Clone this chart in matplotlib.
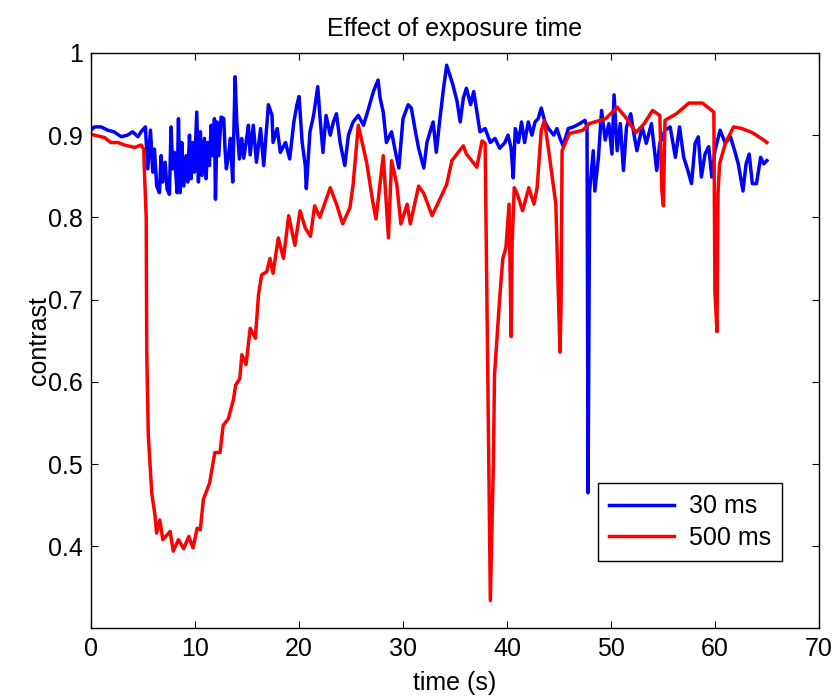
import matplotlib
matplotlib.use("Agg")
import matplotlib.pyplot as plt

plt.rcParams['font.family'] = ['Liberation Sans', 'DejaVu Sans']

# 30 ms exposure (blue)
t_30 = [0, 0.32, 0.96, 1.6, 2.2, 2.9, 3.5, 4.0, 4.5, 4.8,
        5.22, 5.45, 5.71, 5.93, 6.09, 6.31, 6.57, 6.73, 6.89, 7.12, 7.31,
        7.53, 7.69, 7.85, 8.01, 8.27, 8.40, 8.56, 8.72, 8.91, 9.13, 9.29,
        9.46, 9.62, 9.78, 9.94, 10.16, 10.32, 10.51, 10.67, 10.90, 11.06,
        11.22, 11.38, 11.54, 11.70, 11.86, 11.96, 12.12, 12.28, 12.50, 12.76,
        12.88, 13.01, 13.21, 13.40, 13.62, 13.85, 14.01, 14.26, 14.49, 14.68,
        14.90, 15.13, 15.3, 15.6, 15.9, 16.3, 16.6,
        17.05, 17.4, 17.5, 17.9, 18.2, 18.7, 19.1, 19.5, 19.8, 20.0, 20.3,
        20.6, 20.7, 21.05, 21.4, 21.8, 22.0, 22.3, 22.6, 23.0, 23.3, 23.6,
        23.95, 24.4, 24.75, 25.2, 25.7, 26.2, 26.7, 27.15, 27.6, 27.8, 28.1,
        28.4, 28.9, 29.2, 29.6, 30.0, 30.5, 30.8, 31.2, 31.5, 32.0, 32.3,
        32.6, 32.9, 33.2, 33.55, 33.9, 34.2, 34.5, 34.8, 35.2, 35.5, 35.8,
        36.1, 36.5, 36.8, 37.1, 37.4, 37.9, 38.4, 38.85, 39.3, 39.8, 40.1,
        40.4, 40.6, 40.8, 41.1, 41.4, 41.7, 42.05, 42.4, 42.7, 43.0, 43.3,
        43.65, 44.0, 44.5, 44.8, 45.1, 45.4, 45.9, 46.4, 47.0, 47.5, 47.7,
        47.8, 47.95, 48.3, 48.45, 48.8, 49.1, 49.45, 49.8, 50.1, 50.3, 50.6,
        50.9, 51.2, 51.5, 51.9, 52.2, 52.5, 53.0, 53.4, 53.9, 54.4, 54.7,
        55.2, 55.7, 56.2, 56.6, 57.0, 57.4, 57.75, 58.1, 58.4, 58.7, 59.05,
        59.4, 59.7, 60.0, 60.5, 61.0, 61.5, 61.9, 62.25, 62.7, 63.0, 63.3,
        63.6, 64.0, 64.4, 64.7, 65.0]
c_30 = [0.906, 0.910, 0.910, 0.906, 0.904, 0.898, 0.900, 0.904, 0.898, 0.904,
        0.910, 0.859, 0.906, 0.855, 0.883, 0.838, 0.830, 0.875, 0.843, 0.867,
        0.834, 0.828, 0.910, 0.859, 0.879, 0.830, 0.920, 0.830, 0.891, 0.838,
        0.875, 0.843, 0.900, 0.847, 0.891, 0.855, 0.928, 0.843, 0.904, 0.851,
        0.896, 0.847, 0.891, 0.863, 0.912, 0.875, 0.920, 0.822, 0.916, 0.875,
        0.922, 0.920, 0.883, 0.859, 0.875, 0.896, 0.843, 0.971, 0.916, 0.871,
        0.896, 0.872, 0.891, 0.912, 0.876, 0.912, 0.867, 0.908, 0.863,
        0.937, 0.924, 0.891, 0.908, 0.879, 0.891, 0.871, 0.916, 0.937, 0.947,
        0.891, 0.863, 0.835, 0.904, 0.924, 0.959, 0.924, 0.879, 0.924, 0.900,
        0.916, 0.926, 0.891, 0.863, 0.900, 0.916, 0.924, 0.912, 0.933, 0.953,
        0.967, 0.945, 0.928, 0.891, 0.904, 0.884, 0.860, 0.920, 0.937, 0.933,
        0.904, 0.884, 0.860, 0.891, 0.904, 0.916, 0.879, 0.920, 0.957, 0.985,
        0.973, 0.961, 0.941, 0.916, 0.945, 0.957, 0.937, 0.953, 0.929, 0.904,
        0.908, 0.891, 0.896, 0.884, 0.891, 0.900, 0.884, 0.848, 0.908, 0.891,
        0.916, 0.891, 0.916, 0.900, 0.916, 0.920, 0.933, 0.916, 0.908, 0.900,
        0.908, 0.896, 0.887, 0.908, 0.910, 0.914, 0.918, 0.910, 0.465, 0.832,
        0.881, 0.832, 0.873, 0.930, 0.894, 0.914, 0.877, 0.949, 0.881, 0.914,
        0.857, 0.910, 0.926, 0.902, 0.881, 0.910, 0.890, 0.914, 0.857, 0.890,
        0.906, 0.910, 0.873, 0.910, 0.873, 0.857, 0.841, 0.890, 0.898, 0.849,
        0.877, 0.886, 0.849, 0.881, 0.906, 0.890, 0.898, 0.881, 0.865, 0.832,
        0.865, 0.877, 0.841, 0.841, 0.873, 0.865, 0.869]

# 500 ms exposure (red)
t_500 = [0, 0.3, 1.3, 1.9, 2.6, 3.2, 4.2, 4.8, 5.06, 5.13, 5.3, 5.35, 5.5,
         5.83, 6.15, 6.3, 6.6, 6.9, 7.6, 7.9, 8.4, 8.9, 9.4, 9.8, 10.2, 10.5,
         10.8, 11.4, 11.9, 12.4, 12.7, 13.2, 13.7, 13.9, 14.3, 14.5, 14.9,
         15.3, 15.8, 16.1, 16.4, 16.9, 17.2, 17.5, 18.0, 18.5, 19.0, 19.6,
         20.1, 20.6, 21.1, 21.5, 22.0, 23.0, 23.6, 24.2, 24.9, 25.2, 25.7,
         26.5, 27.1, 27.4, 28.1, 28.6, 28.9, 29.4, 29.8, 30.4, 30.7, 31.5,
         32.0, 32.8, 34.2, 34.7, 35.8, 36.1, 37.1, 37.6, 37.9, 38.4, 38.7,
         38.8, 39.3, 39.6, 39.9, 40.2, 40.35, 40.4, 40.5, 40.7, 41.0, 41.5,
         42.1, 42.6, 42.9, 43.3, 43.6, 44.1, 44.7, 45.1, 45.2, 45.3, 46.0,
         47.3, 47.9, 49.5, 50.6, 51.4, 52.4, 53.2, 54.0, 54.7, 54.9, 55.05,
         55.2, 56.3, 57.5, 58.8, 59.9, 60.0, 60.2, 60.3, 60.45, 61.0, 61.8,
         62.6, 63.6, 64.7, 65.0]
c_500 = [0.901, 0.900, 0.897, 0.891, 0.891, 0.888, 0.885, 0.888, 0.883, 0.854,
         0.800, 0.636, 0.535, 0.465, 0.437, 0.416, 0.432, 0.408, 0.418, 0.394,
         0.408, 0.397, 0.412, 0.398, 0.422, 0.420, 0.457, 0.477, 0.514, 0.514,
         0.547, 0.555, 0.579, 0.596, 0.604, 0.633, 0.621, 0.665, 0.653, 0.706,
         0.730, 0.734, 0.750, 0.732, 0.775, 0.750, 0.802, 0.766, 0.808, 0.787,
         0.777, 0.814, 0.800, 0.836, 0.816, 0.792, 0.812, 0.840, 0.912, 0.867,
         0.818, 0.798, 0.875, 0.775, 0.869, 0.840, 0.792, 0.816, 0.792, 0.838,
         0.829, 0.802, 0.840, 0.869, 0.887, 0.877, 0.861, 0.893, 0.890, 0.334,
         0.505, 0.608, 0.702, 0.750, 0.763, 0.816, 0.700, 0.655, 0.770, 0.836,
         0.828, 0.808, 0.836, 0.816, 0.836, 0.906, 0.918, 0.873, 0.816, 0.636,
         0.690, 0.881, 0.902, 0.906, 0.914, 0.920, 0.934, 0.922, 0.903, 0.914,
         0.930, 0.924, 0.832, 0.814, 0.918, 0.926, 0.939, 0.939, 0.928, 0.710,
         0.661, 0.830, 0.865, 0.890, 0.910, 0.908, 0.903, 0.894, 0.891]

fig = plt.figure(figsize=(8.36, 6.96), dpi=100)
ax = fig.add_axes([0.109, 0.097, 0.8705, 0.827])

ax.plot(t_30, c_30, color=(0, 0, 1), linewidth=2.5, label='30 ms')
ax.plot(t_500, c_500, color=(1, 0, 0), linewidth=2.5, label='500 ms')

ax.set_xlim(0, 70)
ax.set_ylim(0.3, 1.0)
ax.set_xticks(range(0, 71, 10))
ax.set_yticks([0.4, 0.5, 0.6, 0.7, 0.8, 0.9, 1.0])
ax.set_yticklabels(['0.4', '0.5', '0.6', '0.7', '0.8', '0.9', '1'])
ax.tick_params(direction='in', top=True, right=True, labelsize=18, length=5,
               pad=6)
for s in ax.spines.values():
    s.set_linewidth(1)

ax.set_title('Effect of exposure time', fontsize=18, pad=12)
ax.set_xlabel('time (s)', fontsize=18, labelpad=7)
ax.set_ylabel('contrast', fontsize=18, labelpad=-2)

leg = ax.legend(loc='lower right', bbox_to_anchor=(0.9496, 0.117),
                borderaxespad=0, fontsize=18,
                fancybox=False, framealpha=1, edgecolor='black',
                handlelength=2.6, borderpad=0.45, labelspacing=0.3,
                handletextpad=0.6)
leg.get_frame().set_linewidth(1)

fig.savefig('out.png', dpi=100)
